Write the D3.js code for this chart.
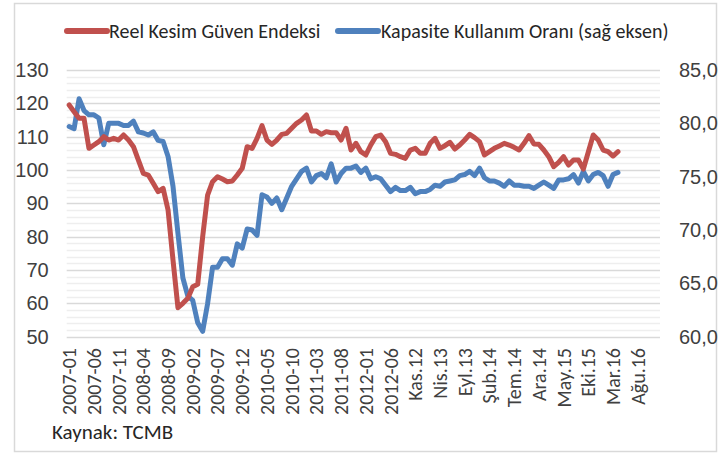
<!DOCTYPE html>
<html>
<head>
<meta charset="utf-8">
<script src="https://cdn.jsdelivr.net/npm/d3@7"></script>
<style>
  body { margin: 0; background: #fff; }
  svg { display: block; font-family: Carlito, Calibri, "Liberation Sans", Arial, sans-serif; }
</style>
</head>
<body>
<div id="chart"></div>
<script>
// Reel Kesim Güven Endeksi (left axis), monthly from 2007-01
const realConfidence = [
  119.5, 117.5, 115.5, 115.5, 106.5, 107.5, 108.5, 110, 109, 109.5,
  109, 110.5, 109, 107, 103, 99, 98.5, 96, 93.5, 94.5,
  88, 73, 58.7, 60, 61.5, 65, 65.7, 80, 92.5, 96.5,
  98, 97.3, 96.5, 96.7, 98.5, 100.5, 107, 106.5, 109.5, 113.3,
  109, 107.7, 109, 110.7, 111, 112.5, 114, 115, 116.5, 111.7,
  111.7, 110.7, 111.5, 111.2, 111.2, 109, 112.5, 106, 108, 105.5,
  104.5, 107.5, 110, 110.5, 108.5, 105, 104.7, 104, 103.5, 106,
  106.5, 105, 105, 108, 109.5, 106.5, 107.3, 108.3, 106.3, 107.5,
  109, 110.7, 109.7, 108.5, 104.5, 105.5, 106.5, 107.2, 108, 107.5,
  106.8, 106, 108, 110.3, 107.8, 107.7, 106, 104, 101, 102.3,
  104, 101.5, 103, 103, 100.3, 105.4, 110.5, 109, 106, 105.5,
  104.2, 105.5
];

// Kapasite Kullanım Oranı (right axis, %)
const capacityUse = [
  79.7, 79.5, 82.3, 81.2, 80.8, 80.8, 80.5, 78.0, 80.0, 80.0,
  80.0, 79.8, 79.8, 80.2, 79.2, 79.1, 78.9, 79.2, 78.4, 78.3,
  76.9, 74.1, 69.7, 65.5, 63.8, 63.4, 61.3, 60.5, 63.1, 66.5,
  66.5, 67.3, 67.3, 66.7, 68.7, 68.3, 70.1, 70.0, 69.5, 73.3,
  73.1, 72.5, 73.0, 71.9, 73.0, 74.1, 74.8, 75.5, 75.8, 74.5,
  75.1, 75.3, 74.9, 76.2, 74.5, 75.3, 75.8, 75.8, 76.0, 75.4,
  75.8, 74.8, 75.0, 74.8, 74.2, 73.6, 74.0, 73.7, 73.7, 74.0,
  73.4, 73.6, 73.6, 73.8, 74.2, 74.1, 74.5, 74.6, 74.7, 75.1,
  75.2, 75.5, 75.1, 75.8, 74.9, 74.6, 74.6, 74.4, 74.1, 74.6,
  74.2, 74.2, 74.1, 74.1, 73.9, 74.2, 74.5, 74.2, 73.9, 74.7,
  74.7, 74.8, 75.2, 74.4, 75.5, 74.6, 75.2, 75.4, 75.1, 74.1,
  75.2, 75.4
];

// category axis: 2007-01 .. 2016-12, a label every 5 months
const tickLabels = [
  "2007-01", "2007-06", "2007-11", "2008-04", "2008-09", "2009-02",
  "2009-07", "2009-12", "2010-05", "2010-10", "2011-03", "2011-08",
  "2012-01", "2012-06", "Kas.12", "Nis.13", "Eyl.13", "Şub.14",
  "Tem.14", "Ara.14", "May.15", "Eki.15", "Mar.16", "Ağu.16"
];
const monthCount = 120;
const labelStep = 5;

const leftTicks = [50, 60, 70, 80, 90, 100, 110, 120, 130];
const rightTicks = [60, 65, 70, 75, 80, 85];

const seriesNames = ["Reel Kesim Güven Endeksi", "Kapasite Kullanım Oranı (sağ eksen)"];
const seriesColors = ["#c0504d", "#4f81bd"];

const width = 723;
const height = 459;
const plot = { left: 66.7, right: 660, top: 70, bottom: 336.7 };

const svg = d3.select("#chart")
  .append("svg")
  .attr("width", width)
  .attr("height", height);

// outer frame
svg.append("rect")
  .attr("x", 14.5).attr("y", 3.5)
  .attr("width", 702).attr("height", 448)
  .attr("fill", "#fff")
  .attr("stroke", "#d9d9d9")
  .attr("stroke-width", 1.5);

const x = d3.scaleBand()
  .domain(d3.range(monthCount))
  .range([plot.left, plot.right])
  .padding(0);
const xc = (i) => x(i) + x.bandwidth() / 2;

const yLeft = d3.scaleLinear().domain([50, 130]).range([plot.bottom, plot.top]);
const yRight = d3.scaleLinear().domain([60, 85]).range([plot.bottom, plot.top]);

// gridlines: minor every 2, major every 10 (left axis units)
const minor = d3.range(50, 131, 2).filter((v) => v % 10 !== 0);
svg.append("g")
  .selectAll("line")
  .data(minor)
  .join("line")
  .attr("x1", plot.left).attr("x2", plot.right)
  .attr("y1", (d) => Math.round(yLeft(d)) + 0.5)
  .attr("y2", (d) => Math.round(yLeft(d)) + 0.5)
  .attr("stroke", "#eeeeee")
  .attr("stroke-width", 1.5);

svg.append("g")
  .selectAll("line")
  .data(leftTicks)
  .join("line")
  .attr("x1", plot.left).attr("x2", plot.right)
  .attr("y1", (d) => Math.round(yLeft(d)) + 0.5)
  .attr("y2", (d) => Math.round(yLeft(d)) + 0.5)
  .attr("stroke", "#d9d9d9")
  .attr("stroke-width", 1.5);

// left axis labels
const leftAxis = svg.append("g")
  .attr("transform", `translate(${plot.left - 18},0)`)
  .call(d3.axisLeft(yLeft).tickValues(leftTicks).tickSize(0).tickPadding(0));
leftAxis.select(".domain").remove();
leftAxis.selectAll("text")
  .attr("font-size", 20)
  .attr("font-family", null)
  .attr("fill", "#404040");

// right axis labels
const fmtComma = (v) => d3.format(".1f")(v).replace(".", ",");
const rightAxis = svg.append("g")
  .attr("transform", `translate(${plot.right + 19},0)`)
  .call(d3.axisRight(yRight).tickValues(rightTicks).tickFormat(fmtComma).tickSize(0).tickPadding(0));
rightAxis.select(".domain").remove();
rightAxis.selectAll("text")
  .attr("font-size", 20)
  .attr("font-family", null)
  .attr("fill", "#404040");

// x labels, rotated
const labelIdx = tickLabels.map((_, k) => k * labelStep);
svg.append("g")
  .selectAll("text")
  .data(labelIdx)
  .join("text")
  .attr("transform", (i) => `translate(${xc(i)},348) rotate(-90)`)
  .attr("text-anchor", "end")
  .attr("dy", "0.35em")
  .attr("font-size", 20)
  .attr("fill", "#404040")
  .text((i, k) => tickLabels[k]);

// lines
const leftLine = d3.line().x((d, i) => xc(i)).y((d) => yLeft(d));
const rightLine = d3.line().x((d, i) => xc(i)).y((d) => yRight(d));

svg.append("path")
  .datum(capacityUse)
  .attr("fill", "none")
  .attr("stroke", seriesColors[1])
  .attr("stroke-width", 5)
  .attr("stroke-linejoin", "round")
  .attr("stroke-linecap", "round")
  .attr("d", rightLine);

svg.append("path")
  .datum(realConfidence)
  .attr("fill", "none")
  .attr("stroke", seriesColors[0])
  .attr("stroke-width", 5)
  .attr("stroke-linejoin", "round")
  .attr("stroke-linecap", "round")
  .attr("d", leftLine);

// legend
const legendItems = [
  { x0: 67, x1: 107, tx: 109, name: seriesNames[0], color: seriesColors[0] },
  { x0: 338, x1: 378, tx: 381, name: seriesNames[1], color: seriesColors[1] }
];
const legend = svg.append("g").selectAll("g").data(legendItems).join("g");
legend.append("line")
  .attr("x1", (d) => d.x0).attr("x2", (d) => d.x1)
  .attr("y1", 31).attr("y2", 31)
  .attr("stroke", (d) => d.color)
  .attr("stroke-width", 6)
  .attr("stroke-linecap", "round");
legend.append("text")
  .attr("x", (d) => d.tx)
  .attr("y", 31)
  .attr("dy", "0.35em")
  .attr("font-size", 20)
  .attr("fill", "#262626")
  .text((d) => d.name);

// source note
svg.append("text")
  .attr("x", 52)
  .attr("y", 432)
  .attr("dy", "0.35em")
  .attr("font-size", 21)
  .attr("fill", "#262626")
  .text("Kaynak: TCMB");
</script>
</body>
</html>
